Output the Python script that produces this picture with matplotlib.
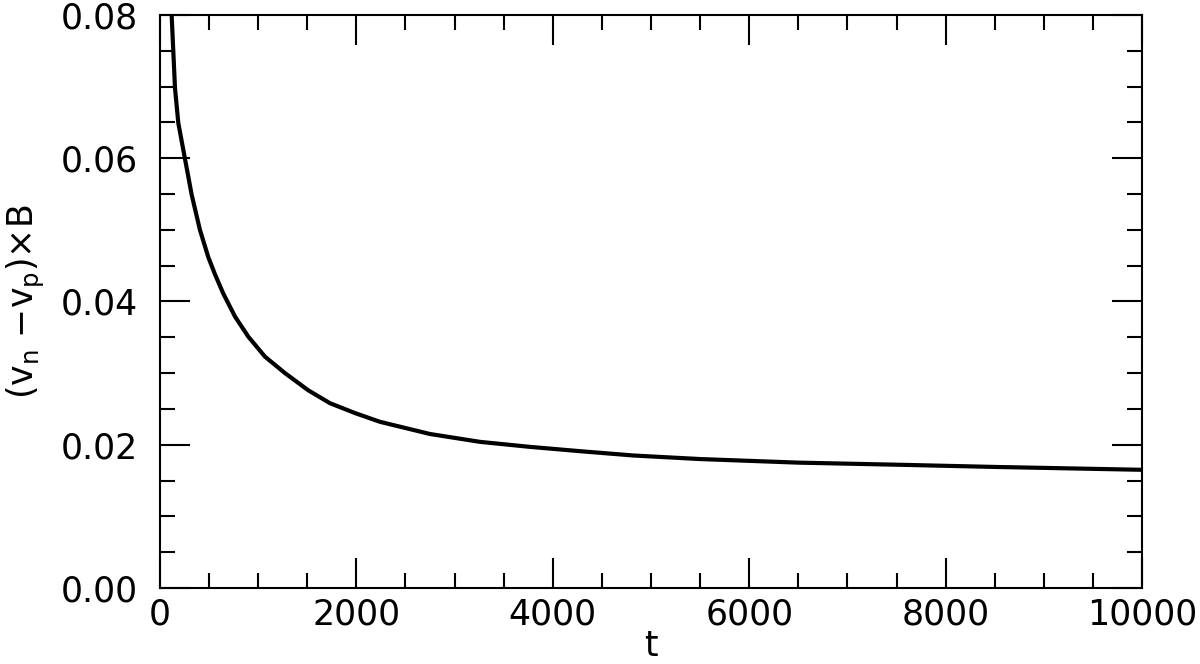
import numpy as np
import matplotlib
matplotlib.use('Agg')
import matplotlib.pyplot as plt
from matplotlib.ticker import MultipleLocator

# значения
t = [119, 136, 153, 187, 255, 323, 407, 492, 560, 645, 764, 899, 1069,
     1273, 1510, 1731, 1990, 2240, 2749, 3259, 3768, 4277, 4817, 5499,
     6500, 7536, 8500, 10000]
dv = [0.0800, 0.0749, 0.0698, 0.0649, 0.0599, 0.0549, 0.0500, 0.0462,
      0.0438, 0.0411, 0.0379, 0.0351, 0.0323, 0.0300, 0.0276, 0.0258,
      0.0244, 0.0232, 0.0215, 0.0204, 0.0197, 0.0191, 0.0185, 0.0180,
      0.0175, 0.0172, 0.0169, 0.0165]

plt.rcParams['font.family'] = ['DejaVu Sans']
plt.rcParams['mathtext.fontset'] = 'dejavusans'

fig = plt.figure(figsize=(12, 6.64), dpi=100)
ax = fig.add_axes([0.1333, 0.1145, 0.8184, 0.8629])

ax.plot(t, dv, color='black', linewidth=3, solid_joinstyle='round')

ax.set_xlim(0, 10000)
ax.set_ylim(0, 0.08)
ax.xaxis.set_major_locator(MultipleLocator(2000))
ax.xaxis.set_minor_locator(MultipleLocator(500))
ax.yaxis.set_major_locator(MultipleLocator(0.02))
ax.yaxis.set_minor_locator(MultipleLocator(0.005))
ax.yaxis.set_major_formatter(plt.FormatStrFormatter('%.2f'))

ax.tick_params(which='both', direction='in', top=True, right=True,
               width=1.5, labelsize=25, color='black')
ax.tick_params(which='major', length=21.5)
ax.tick_params(which='minor', length=10.8)
ax.tick_params(axis='x', pad=7)
ax.tick_params(axis='y', pad=16)
for s in ax.spines.values():
    s.set_linewidth(1.5)

ax.set_xlabel('t', fontsize=25, labelpad=-2)
ax.set_ylabel(r'(v$_\mathrm{n}$ $-$v$_\mathrm{p}$)$\times$B', fontsize=25, labelpad=10)

fig.savefig('out.png', dpi=100)
